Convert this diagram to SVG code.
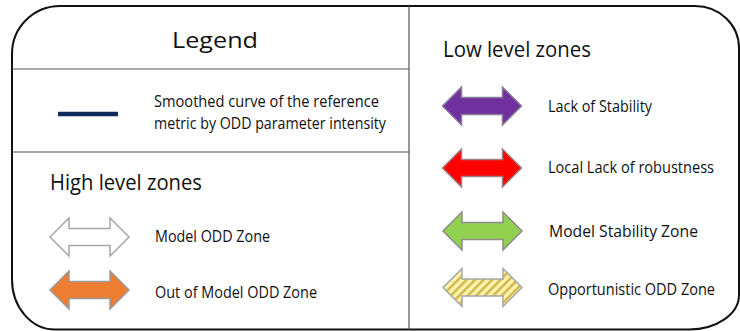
<svg xmlns="http://www.w3.org/2000/svg" xmlns:xlink="http://www.w3.org/1999/xlink" width="740" height="331" viewBox="0 0 740 331">
  <style>
    .title { font-family: "Open Sans", "Noto Sans", sans-serif; font-size: 22px; fill: #111; }
    .lbl { font-family: "Open Sans", "Noto Sans", sans-serif; font-size: 16px; fill: #111; }
    .div { stroke: #555; stroke-width: 1.2; fill: none; }
    .arrow { stroke-width: 1.5; stroke-linejoin: miter; }
  </style>
  <defs>
    <path id="dbl" d="M -39.5 0 L -20.5 -19 L -20.5 -8.5 L 20.5 -8.5 L 20.5 -19 L 39.5 0 L 20.5 19 L 20.5 8.5 L -20.5 8.5 L -20.5 19 Z"/>
    <pattern id="hatch" patternUnits="userSpaceOnUse" width="6" height="6" patternTransform="rotate(45)">
      <rect width="6" height="6" fill="#fff4b0"/>
      <rect width="2.6" height="6" fill="#d2b94e"/>
    </pattern>
  </defs>

  <rect width="740" height="331" fill="#fff"/>

  <g id="frame">
    <path d="M 60 6 L 695 6 A 44 42 0 0 1 739 48 L 739 295 A 50 34.5 0 0 1 689 329.5 L 55 329.5 A 43 50 0 0 1 12 279.5 L 12 54 A 48 48 0 0 1 60 6 Z" fill="none" stroke="#111" stroke-width="2"/>
    <line class="div" x1="409" y1="6" x2="409" y2="329.5"/>
    <line class="div" x1="12" y1="69" x2="409" y2="69"/>
    <line class="div" x1="12" y1="152" x2="409" y2="152"/>
  </g>

  <g id="legend-title">
    <text class="title" x="172" y="48" textLength="86" lengthAdjust="spacingAndGlyphs">Legend</text>
  </g>

  <g id="smoothed-curve">
    <line x1="58" y1="114" x2="118" y2="114" stroke="#0c2a5c" stroke-width="4.5"/>
    <text class="lbl" x="154" y="106.5" textLength="225" lengthAdjust="spacingAndGlyphs">Smoothed curve of the reference</text>
    <text class="lbl" x="154" y="129" textLength="232" lengthAdjust="spacingAndGlyphs">metric by ODD parameter intensity</text>
  </g>

  <g id="high-level-title">
    <text class="title" x="50" y="190" textLength="152" lengthAdjust="spacingAndGlyphs">High level zones</text>
  </g>

  <g id="model-odd-zone">
    <use xlink:href="#dbl" class="arrow" x="89.5" y="237" fill="#ffffff" stroke="#a6a6a6"/>
    <text class="lbl" x="155" y="242" textLength="115" lengthAdjust="spacingAndGlyphs">Model ODD Zone</text>
  </g>

  <g id="out-of-model-odd-zone">
    <use xlink:href="#dbl" class="arrow" x="89.5" y="290" fill="#ed7d31" stroke="#9a9a9a"/>
    <text class="lbl" x="155" y="297.5" textLength="162" lengthAdjust="spacingAndGlyphs">Out of Model ODD Zone</text>
  </g>

  <g id="low-level-title">
    <text class="title" x="443" y="57" textLength="148" lengthAdjust="spacingAndGlyphs">Low level zones</text>
  </g>

  <g id="lack-of-stability">
    <use xlink:href="#dbl" class="arrow" x="482" y="106" fill="#7030a0" stroke="#8a7a96"/>
    <text class="lbl" x="548" y="111.5" textLength="104" lengthAdjust="spacingAndGlyphs">Lack of Stability</text>
  </g>

  <g id="local-lack-of-robustness">
    <use xlink:href="#dbl" class="arrow" x="482" y="168" fill="#ff0000" stroke="#a08080"/>
    <text class="lbl" x="548" y="173" textLength="166" lengthAdjust="spacingAndGlyphs">Local Lack of robustness</text>
  </g>

  <g id="model-stability-zone">
    <use xlink:href="#dbl" class="arrow" x="482.5" y="231" fill="#92d050" stroke="#8a8a8a"/>
    <text class="lbl" x="549" y="236.5" textLength="149" lengthAdjust="spacingAndGlyphs">Model Stability Zone</text>
  </g>

  <g id="opportunistic-odd-zone">
    <use xlink:href="#dbl" class="arrow" x="482.5" y="287.5" fill="url(#hatch)" stroke="#a6a6a6"/>
    <text class="lbl" x="548" y="295" textLength="167" lengthAdjust="spacingAndGlyphs">Opportunistic ODD Zone</text>
  </g>
</svg>
